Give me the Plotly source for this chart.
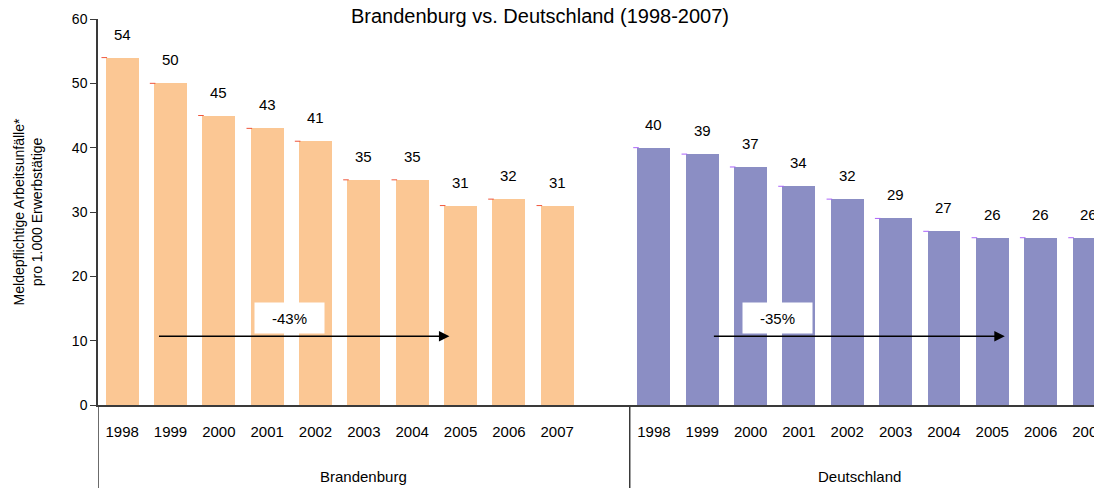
import plotly.graph_objects as go

# Data
years = ["1998", "1999", "2000", "2001", "2002", "2003", "2004", "2005", "2006", "2007"]
brandenburg = [54, 50, 45, 43, 41, 35, 35, 31, 32, 31]
deutschland = [40, 39, 37, 34, 32, 29, 27, 26, 26, 26]
groups = ["Brandenburg", "Deutschland"]
changes = ["-43%", "-35%"]

FONT = "Liberation Sans, Arial, sans-serif"
PEACH = "#FBC794"
LAVENDER = "#8B8EC4"
AXIS = "#3a3a3a"

# one empty slot between the two groups
gap = 1
x_bb = list(range(len(years)))
x_de = [i + len(years) + gap for i in range(len(years))]
bar_w = 0.68

fig = go.Figure()

for xs, vals, color, name in [(x_bb, brandenburg, PEACH, groups[0]),
                              (x_de, deutschland, LAVENDER, groups[1])]:
    fig.add_trace(go.Bar(
        x=xs, y=vals, width=bar_w, marker=dict(color=color, line=dict(width=0)),
        name=name, showlegend=False,
        hovertemplate=name + " %{customdata}: %{y}<extra></extra>",
        customdata=years,
    ))
    # small dash at the top-left corner of each bar (as in the original)
    fig.add_trace(go.Scatter(
        x=[x - bar_w / 2 - 0.03 for x in xs], y=vals, mode="markers",
        marker=dict(symbol="line-ew-open", size=4, line=dict(color="black", width=1)),
        showlegend=False, hoverinfo="skip",
    ))
    for x, v in zip(xs, vals):
        fig.add_annotation(x=x, y=v, text=str(v), showarrow=False,
                           yanchor="bottom", yshift=13,
                           font=dict(family=FONT, size=15, color="black"))

# change arrows and boxes
arrow_y = 10.7
box_y = 13.5
for start, end, box_x, label in [(0.73, 6.77, 3.46, changes[0]),
                                 (x_de[0] + 1.21, x_de[0] + 7.26, x_de[0] + 2.55, changes[1])]:
    fig.add_annotation(x=end, y=arrow_y, ax=start, ay=arrow_y, xref="x", yref="y",
                       axref="x", ayref="y", text="", showarrow=True,
                       arrowhead=2, arrowsize=1.4, arrowwidth=1.5, arrowcolor="black")
    fig.add_annotation(x=box_x, y=box_y, text=label, showarrow=False,
                       bgcolor="white", width=63, height=24, borderpad=3,
                       font=dict(family=FONT, size=15, color="black"))

# group labels and dividers below the axis
fig.add_annotation(x=5, y=-0.1865, yref="paper", yanchor="middle", text=groups[0],
                   showarrow=False, font=dict(family=FONT, size=15, color="black"))
fig.add_annotation(x=x_de[0] + 4.25, y=-0.1865, yref="paper", yanchor="middle",
                   text=groups[1], showarrow=False,
                   font=dict(family=FONT, size=15, color="black"))
for xd in [-0.5, len(years) + gap - 0.5]:
    fig.add_shape(type="line", xref="x", yref="paper", x0=xd, x1=xd, y0=0, y1=-0.22,
                  line=dict(color=AXIS, width=1.5))

# title right at the top edge
fig.add_annotation(x=0.44, y=1, xref="paper", yref="paper", yanchor="bottom", yshift=-10,
                   text="Brandenburg vs. Deutschland (1998-2007)", showarrow=False,
                   font=dict(family=FONT, size=20, color="black"))

# the page adds an 8px body margin, so the figure is sized to fit the window
fig.update_layout(
    width=1094, height=480, autosize=False,
    margin=dict(l=90, r=0, t=11, b=83),
    plot_bgcolor="white", paper_bgcolor="white",
    font=dict(family=FONT, color="black"),
    bargap=0,
)
fig.update_xaxes(
    range=[-0.5, 20.27], tickvals=x_bb + x_de, ticktext=years + years,
    ticks="", showline=True, linecolor=AXIS, linewidth=1.5, showgrid=False,
    zeroline=False, ticklabelstandoff=12, ticklabeloverflow="allow",
    tickfont=dict(size=15, family=FONT), automargin=False,
)
fig.update_yaxes(
    range=[0, 60], dtick=10, ticks="outside", ticklen=6, tickcolor=AXIS,
    showline=True, linecolor=AXIS, linewidth=1.5, showgrid=False, zeroline=False,
    tickfont=dict(size=14, family=FONT), automargin=False,
    title=dict(text="Meldepflichtige Arbeitsunfälle*<br>pro 1.000 Erwerbstätige",
               font=dict(size=14, family=FONT), standoff=26),
)

fig.write_html("out.html")
